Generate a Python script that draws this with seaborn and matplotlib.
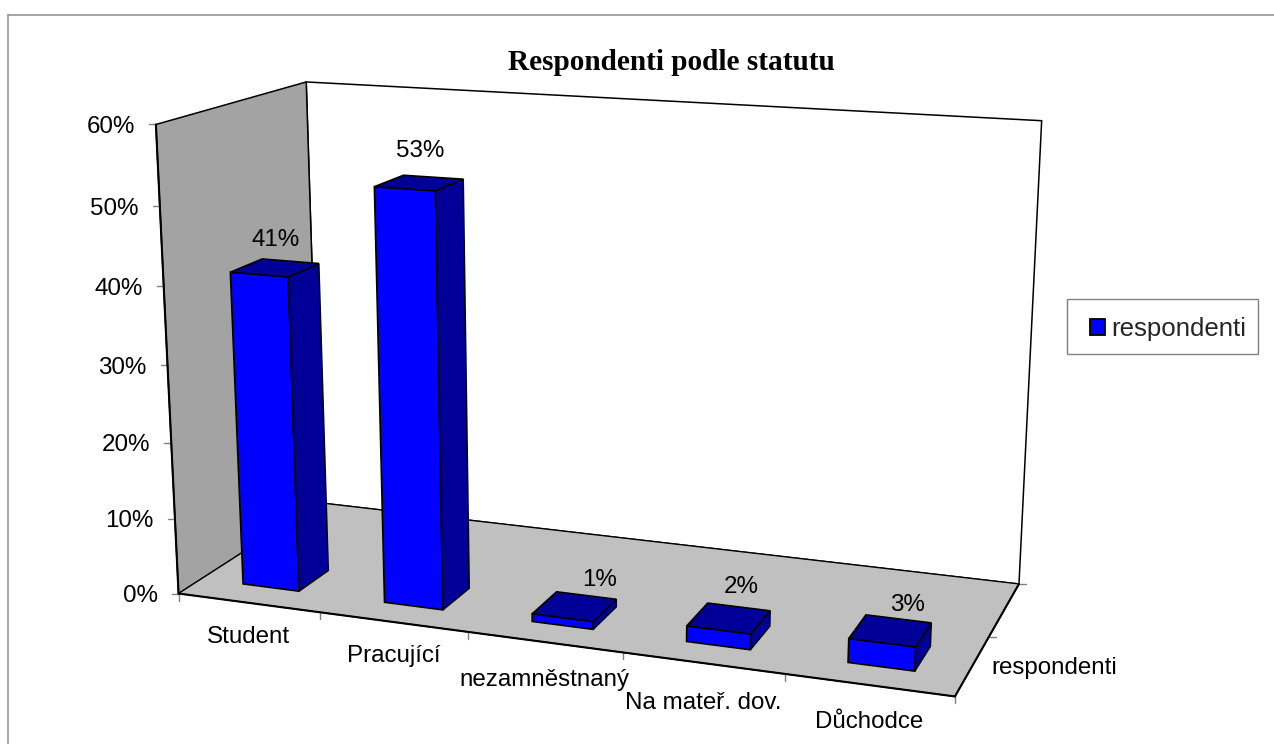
import numpy as np
import matplotlib
matplotlib.use("Agg")
import matplotlib.pyplot as plt
from matplotlib.patches import Patch, Rectangle
from matplotlib.transforms import Transform
import seaborn as sns

# Survey shares in percent
categories = ["Student", "Pracující", "nezamněstnaný", "Na mateř. dov.", "Důchodce"]
values = [41, 53, 1, 2, 3]
value_labels = ["41%", "53%", "1%", "2%", "3%"]
y_ticks = [0, 10, 20, 30, 40, 50, 60]
series_name = "respondenti"
title = "Respondenti podle statutu"

# Box geometry of the 3D scene: category x, value y, depth d -> canvas pixel
scene_points = np.array([
    [-0.5, 0, 0], [-0.5, 60, 0], [-0.5, 0, 1], [-0.5, 60, 1],
    [4.5, 0, 1], [4.5, 60, 1], [4.5, 0, 0],
    [0.5, 0, 0], [1.5, 0, 0], [2.5, 0, 0], [3.5, 0, 0],
    [-0.5, 10, 0], [-0.5, 40, 0], [-0.5, 50, 0],
], dtype=float)
canvas_points = np.array([
    [179.3, 593.3], [156.7, 125.0], [319.0, 503.0], [306.7, 82.0],
    [1019.0, 583.7], [1041.7, 120.7], [955.0, 695.7],
    [321.0, 612.5], [468.0, 632.5], [623.0, 653.0], [785.0, 674.5],
    [175.0, 518.0], [162.3, 286.0], [159.3, 206.0],
])
bar_depth = (0.15, 0.36)
bar_width = 0.4


def fit_camera(world, pixel):
    rows, rhs = [], []
    for (x, y, d), (u, v) in zip(world, pixel):
        rows.append([x, y, d, 1, 0, 0, 0, 0, -u * x, -u * y, -u * d])
        rows.append([0, 0, 0, 0, x, y, d, 1, -v * x, -v * y, -v * d])
        rhs += [u, v]
    sol = np.linalg.lstsq(np.array(rows), np.array(rhs), rcond=None)[0]
    return np.append(sol, 1.0).reshape(3, 4)


CAMERA = fit_camera(scene_points, canvas_points)


def project(x, y, d):
    h = CAMERA @ np.array([x, y, d, 1.0])
    return h[0] / h[2], h[1] / h[2]


def face(corners):
    return np.array([project(*c) for c in corners])


class DepthPlane(Transform):
    """Maps (category, value) at a fixed depth onto the canvas."""
    input_dims = 2
    output_dims = 2

    def __init__(self, plane_depth):
        super().__init__()
        self.plane_depth = plane_depth

    def transform_non_affine(self, xy):
        xy = np.asarray(xy, dtype=float)
        return np.array([project(x, y, self.plane_depth) for x, y in xy])


sns.set_theme(style="white")
plt.rcParams["font.family"] = ["Liberation Sans", "DejaVu Sans"]
FONT = 17.4

fig = plt.figure(figsize=(12.74, 7.44), dpi=100, facecolor="white")
ax = fig.add_axes([0, 0, 1, 1])

BLUE = "#0000ff"
DARK = "#000099"
bars = sns.barplot(x=categories, y=values, color=BLUE, saturation=1, width=bar_width,
                   edgecolor="black", linewidth=1.2, ax=ax, zorder=5)
ax.set_xlim(0, 1274)
ax.set_ylim(744, 0)
ax.set_autoscale_on(False)
ax.set_axis_off()

# Outer chart frame
ax.plot([8, 8], [744, 15], color="#a6a6a6", lw=1.4, zorder=1, clip_on=False)
ax.plot([8, 1274], [15, 15], color="#8c8c8c", lw=1.1, zorder=1, clip_on=False)

x0, x1 = -0.5, 4.5
top = y_ticks[-1]

# Walls and floor
ax.fill(*face([(x0, 0, 1), (x0, top, 1), (x1, top, 1), (x1, 0, 1)]).T,
        facecolor="white", edgecolor="black", lw=1.1, zorder=2)
ax.fill(*face([(x0, 0, 0), (x0, top, 0), (x0, top, 1), (x0, 0, 1)]).T,
        facecolor="#a3a3a3", edgecolor="black", lw=1.1, zorder=2)
ax.fill(*face([(x0, 0, 0), (x1, 0, 0), (x1, 0, 1), (x0, 0, 1)]).T,
        facecolor="#c0c0c0", edgecolor="black", lw=0.9, zorder=3)
# Heavier front edges
for a, b in [((x0, 0, 0), (x0, top, 0)), ((x0, 0, 0), (x1, 0, 0)), ((x1, 0, 0), (x1, 0, 1))]:
    ax.plot(*face([a, b]).T, color="black", lw=1.5, zorder=4, solid_capstyle="round")

# Tick marks and axis labels
TICK = "#808080"
for v in y_ticks:
    px, py = project(x0, v, 0)
    ax.plot([px - 7, px], [py, py], color=TICK, lw=1.0, zorder=1)
    ax.text(px - 21, py, f"{v}%", ha="right", va="center_baseline", fontsize=FONT, color="black")
for i in np.arange(x0, x1 + 0.1):
    px, py = project(i, 0, 0)
    ax.plot([px, px], [py, py + 7], color=TICK, lw=1.0, zorder=1)
for d in (0.5, 1.0):
    px, py = project(x1, 0, d)
    ax.plot([px, px + 7], [py, py], color=TICK, lw=1.0, zorder=1)
label_drop = [32, 31, 35, 37, 34]
for i, (name, drop) in enumerate(zip(categories, label_drop)):
    px, py = project(i, 0, 0)
    ax.text(px, py + drop, name, ha="center", va="center_baseline", fontsize=FONT, color="black")
px, py = project(x1, 0, 0.5)
ax.text(px + 2, py + 29, series_name, ha="left", va="center_baseline", fontsize=FONT, color="black")

# Extrude each seaborn bar into a prism
d0, d1 = bar_depth
label_shift = [(-15, -24), (-13, -29), (13, -18), (2.5, -22), (9, -16)]
for patch, text, shift in zip(bars.patches, value_labels, label_shift):
    xa, w, h = patch.get_x(), patch.get_width(), patch.get_height()
    xb = xa + w
    patch.set_transform(DepthPlane(d0) + ax.transData)
    patch.set_clip_on(False)
    ax.fill(*face([(xb, 0, d0), (xb, h, d0), (xb, h, d1), (xb, 0, d1)]).T,
            facecolor=DARK, edgecolor="black", lw=1.2, zorder=5)
    ax.fill(*face([(xa, h, d0), (xb, h, d0), (xb, h, d1), (xa, h, d1)]).T,
            facecolor=DARK, edgecolor="black", lw=1.2, zorder=5)
    px, py = project(xa + w / 2, h, d1)
    ax.text(px + shift[0], py + shift[1], text, ha="center", va="center_baseline",
            fontsize=FONT, color="black", zorder=6)

ax.text(671, 60, title, ha="center", va="center_baseline", fontsize=21.1, fontweight="bold",
        family=["Liberation Serif", "DejaVu Serif"], color="black")

# Legend
ax.add_patch(Rectangle((1067, 299), 191, 55, facecolor="white", edgecolor="#808080", lw=1.0, zorder=6))
ax.legend(handles=[Patch(facecolor=BLUE, edgecolor="black", lw=1.3, label=series_name)],
          loc="center left", bbox_to_anchor=(1090, 329), bbox_transform=ax.transData,
          frameon=False, fontsize=18.6, borderpad=0, borderaxespad=0,
          handlelength=0.58, handleheight=0.58, handletextpad=0.25).set_zorder(7)

fig.savefig("out.png", dpi=100, facecolor="white")
